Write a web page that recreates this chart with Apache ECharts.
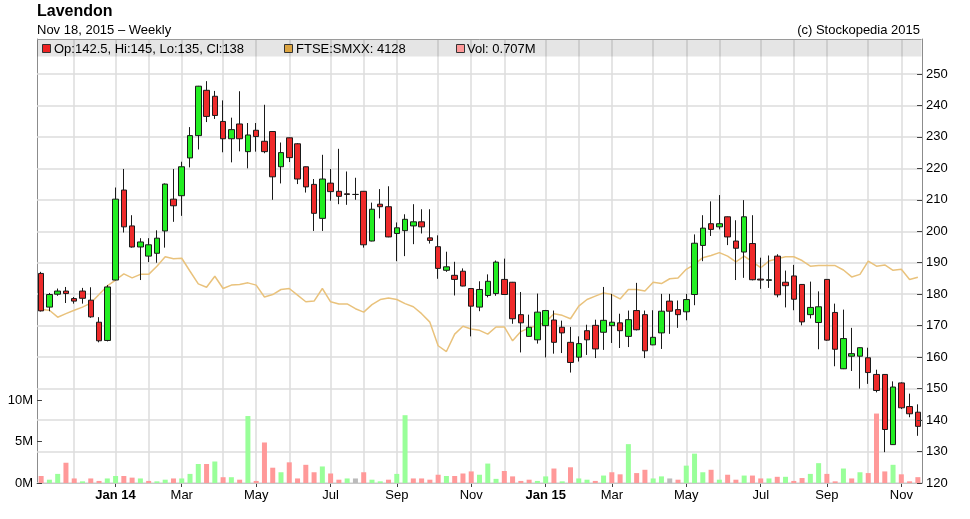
<!DOCTYPE html>
<html><head><meta charset="utf-8">
<script src="https://cdn.jsdelivr.net/npm/echarts@6/dist/echarts.min.js"></script>
<style>html,body{margin:0;padding:0;background:#fff}#c{width:970px;height:519px}</style>
</head><body><div id="c"></div>
<script>
// ---- data (weekly, index 0 = w/c 4 Nov 2013, index 106 = w/c 16 Nov 2015) ----
const openP  = [186.6,175.9,180.0,181.0,178.6,181.0,178.1,171.1,165.3,184.5,213.1,201.7,195.0,192.1,193.0,200.1,210.2,211.3,223.3,230.4,244.8,242.9,234.9,229.4,234.1,225.3,232.1,228.6,231.7,220.5,229.7,227.8,220.5,214.9,204.1,215.3,212.7,211.9,211.7,212.7,196.9,208.6,207.8,199.3,200.2,201.7,203.0,197.9,195.1,187.6,186.0,187.3,181.8,175.9,179.6,180.2,184.7,183.8,173.5,166.6,165.5,170.0,171.8,169.5,164.7,160.0,168.4,170.1,167.9,170.0,170.9,166.6,174.8,173.5,163.9,167.7,177.8,175.1,174.4,179.9,195.5,202.4,201.4,204.6,196.9,193.4,196.1,184.8,184.4,192.1,183.8,185.8,183.1,173.5,171.0,184.7,174.2,156.3,160.3,160.3,159.8,154.5,154.5,132.2,151.8,144.3,142.5];
const closeP = [174.7,179.9,181.0,180.2,177.8,178.7,172.8,165.2,182.3,210.2,201.4,195.0,196.6,195.7,197.8,215.0,208.1,220.5,230.4,246.1,236.5,236.8,229.4,232.3,229.4,230.6,230.1,225.3,217.3,225.0,223.4,216.6,214.1,205.7,216.6,212.6,211.1,211.7,211.7,195.7,207.0,207.8,198.2,201.1,203.8,203.0,201.4,197.1,188.2,188.7,184.7,182.6,176.2,181.5,184.1,190.2,179.9,172.2,170.9,169.5,174.3,174.8,164.7,167.7,158.3,164.3,165.5,162.6,171.7,171.1,168.4,171.9,168.7,162.0,166.3,174.6,174.6,173.5,178.3,196.2,201.0,200.6,202.4,198.2,194.6,204.6,184.6,184.5,184.6,179.8,182.7,178.4,171.2,175.8,176.0,165.4,162.5,165.9,161.1,163.0,155.1,149.4,137.0,150.5,143.9,142.0,138.0];
const lowP   = [174.5,174.6,179.5,177.2,177.0,177.0,172.5,164.7,165.0,184.4,199.6,194.8,184.5,190.2,190.0,194.8,203.0,204.9,220.3,226.0,234.7,235.7,225.1,221.9,225.4,220.0,225.3,224.8,210.0,215.2,222.0,215.0,212.3,200.1,200.1,209.7,208.6,208.4,210.0,194.8,196.8,204.1,198.1,190.5,192.1,195.9,199.3,196.1,184.9,187.1,179.6,182.5,166.6,174.6,179.0,179.5,179.8,170.6,161.5,166.5,164.3,159.9,161.1,161.3,155.1,158.6,160.7,159.7,162.3,164.5,162.9,163.2,168.5,159.7,163.8,162.6,167.4,169.3,171.7,176.5,190.5,198.5,200.6,195.6,184.5,185.2,184.4,181.7,182.0,179.0,175.8,174.9,170.1,172.3,162.5,165.2,157.1,156.2,155.6,150.0,151.5,148.8,129.8,132.1,143.5,140.9,135.0];
const highP  = [187.1,180.4,181.8,182.3,179.1,182.0,182.2,172.7,182.9,213.9,219.8,205.1,197.8,197.8,200.3,215.2,219.8,222.1,233.1,246.2,247.7,244.6,241.6,236.1,244.5,234.4,234.4,240.2,231.8,228.2,229.8,228.0,220.6,216.6,224.3,219.8,226.2,219.0,217.0,212.8,209.1,213.4,214.3,202.8,205.4,208.6,207.0,207.0,198.7,193.5,190.3,188.2,181.9,184.1,186.3,190.7,191.3,183.9,180.7,173.5,180.2,175.0,174.8,171.6,169.6,166.6,170.3,171.9,182.3,180.1,173.8,174.8,183.6,174.8,174.9,180.1,180.1,178.0,180.1,199.0,205.1,209.5,211.5,204.7,203.5,209.9,205.1,191.6,192.3,192.7,187.5,189.3,183.2,184.0,180.9,184.8,177.0,175.1,169.3,163.1,163.0,156.0,154.6,152.3,152.0,148.4,145.0];
const volumeM = [0.85,0.4,1.1,2.45,0.55,0.2,0.55,0.25,0.55,0.85,0.85,0.65,0.55,0.25,0.2,0.4,0.55,0.55,1.1,2.3,2.3,2.6,0.7,0.7,0.4,8.1,0.25,4.9,1.85,1.3,2.5,0.55,2.2,1.3,2.0,1.15,0.4,0.55,0.55,1.3,0.4,0.2,0.4,1.1,8.2,0.55,0.55,0.4,1.0,0.85,0.85,1.15,1.4,1.0,2.35,0.5,1.45,0.8,0.25,0.4,0.25,0.8,1.75,0.2,1.9,0.55,0.4,0.25,0.9,1.3,1.05,4.7,1.2,1.6,0.55,0.8,0.55,0.4,2.1,3.55,1.3,1.6,0.4,1.0,0.4,0.9,0.9,0.55,0.55,0.75,0.75,0.25,0.6,1.1,2.4,1.1,0.2,1.75,0.55,1.3,1.2,8.4,1.4,2.2,1.05,0.2,0.707];
const ftseSMXX = [3899,3894,3845,3870,3894,3916,3945,4005,4066,4108,4152,4123,4148,4148,4206,4273,4259,4262,4170,4081,4057,4135,4048,4072,4077,4088,4072,3988,4005,4041,4048,4001,3954,3959,4048,3954,3939,3939,3905,3881,3934,3970,3981,3970,3941,3919,3870,3810,3643,3602,3725,3781,3761,3752,3725,3776,3776,3678,3743,3769,3787,3810,3870,3858,3834,3923,3970,3994,4017,4005,3974,4041,4041,4030,4092,4083,4117,4123,4184,4219,4266,4282,4302,4277,4237,4277,4237,4195,4242,4259,4273,4273,4246,4206,4210,4210,4210,4179,4130,4148,4242,4206,4215,4177,4184,4112,4128];
// month grid weeks and labelled ticks
const monthGridWeeks = [4,9,13,17,22,26,30,35,39,43,48,52,56,61,65,69,74,78,82,87,91,95,100,104];
const labelWeeks = [9,17,26,35,43,52,61,69,78,87,95,104];
const labelTexts = ['Jan 14','Mar','May','Jul','Sep','Nov','Jan 15','Mar','May','Jul','Sep','Nov'];
const boldLabels = ['Jan 14','Jan 15'];
const priceTicks = [120,130,140,150,160,170,180,190,200,210,220,230,240,250];
const volTicksM = [0,5,10];
const legendTexts = ['Op:142.5, Hi:145, Lo:135, Cl:138','FTSE:SMXX: 4128','Vol: 0.707M'];

// ---- scale settings ----
const PRICE_MIN = 120, PRICE_MAX = 261.1;
const VOL_MAX = 53.7e6;
const FTSE_PER_PRICE = 22.265; // rebasing of the index onto the price scale
const FONT = '"Liberation Sans", Arial, sans-serif';
const TICK_WEEKS = 0.6; // inner tick length, in weeks

const n = openP.length;
const candleData = openP.map((o, i) => [i, o, closeP[i], lowP[i], highP[i]]);
const volData = volumeM.map((v, i) => {
  const prev = i > 0 ? closeP[i - 1] : openP[0];
  const col = closeP[i] > prev ? '#99ff99' : (closeP[i] < prev ? '#ff9999' : '#bbbbbb');
  return { value: [i, v * 1e6], itemStyle: { color: col } };
});
const ftseData = ftseSMXX.map((f, i) => [i, f]);
const labelMap = {};
labelWeeks.forEach((w, k) => labelMap[w] = labelTexts[k]);
const xMin = -0.5, xMax = n - 0.5;

const tickLine = { silent: true, symbol: ['none', 'none'], animation: false, label: { show: false },
  lineStyle: { color: '#404040', width: 1, type: 'solid' }, emphasis: { disabled: true } };

const chart = echarts.init(document.getElementById('c'));
chart.setOption({
  animation: false,
  backgroundColor: '#ffffff',
  grid: { left: 37, right: 48, top: 39, bottom: 36, containLabel: false },
  xAxis: {
    type: 'value', min: xMin, max: xMax,
    axisLine: { show: true, onZero: false, lineStyle: { color: '#8c8c8c', width: 1 } },
    axisTick: { show: true, customValues: labelWeeks, length: 4, lineStyle: { color: '#404040' } },
    axisLabel: {
      customValues: labelWeeks, margin: 6, color: '#000', fontSize: 13, fontFamily: FONT,
      formatter: v => { const t = labelMap[Math.round(v)] || ''; return boldLabels.includes(t) ? '{b|' + t + '}' : t; },
      rich: { b: { fontWeight: 'bold', fontSize: 13, fontFamily: FONT, color: '#000' } }
    },
    splitLine: { show: false }
  },
  yAxis: [
    {
      type: 'value', position: 'right', min: PRICE_MIN, max: PRICE_MAX, interval: 10,
      axisLine: { show: true, onZero: false, lineStyle: { color: '#8c8c8c' } },
      axisTick: { show: false },
      axisLabel: { customValues: priceTicks, margin: 4, color: '#000', fontSize: 13, fontFamily: FONT },
      splitLine: { show: false }
    },
    {
      type: 'value', position: 'left', min: 0, max: VOL_MAX,
      axisLine: { show: true, onZero: false, lineStyle: { color: '#8c8c8c' } },
      axisTick: { show: false },
      axisLabel: { customValues: volTicksM.map(v => v * 1e6), margin: 4, color: '#000', fontSize: 13, fontFamily: FONT,
        formatter: v => Math.round(v / 1e6) + 'M' },
      splitLine: { show: false }
    },
    { type: 'value', show: false, position: 'right', axisLine: { onZero: false },
      min: PRICE_MIN * FTSE_PER_PRICE, max: PRICE_MAX * FTSE_PER_PRICE }
  ],
  graphic: {
    elements: [
      { type: 'rect', z: 1.5, shape: { x: 37, y: 39, width: 884.5, height: 17.5 }, style: { fill: 'rgba(0,0,0,0.1)' } },
      { type: 'line', z: 1.6, shape: { x1: 37, y1: 39.5, x2: 921.5, y2: 39.5 }, style: { stroke: '#9a9a9a', lineWidth: 1 } },
      { type: 'text', z: 10, x: 37, y: 12, style: { text: 'Lavendon', font: 'bold 16px ' + FONT, fill: '#000', textVerticalAlign: 'middle' } },
      { type: 'text', z: 10, x: 37, y: 30, style: { text: 'Nov 18, 2015 \u2013 Weekly', font: '13px ' + FONT, fill: '#000', textVerticalAlign: 'middle' } },
      { type: 'text', z: 10, x: 920, y: 30, style: { text: '(c) Stockopedia 2015', font: '13px ' + FONT, fill: '#000', textAlign: 'right', textVerticalAlign: 'middle' } },
      { type: 'rect', z: 10, shape: { x: 42.5, y: 44.5, width: 8, height: 8 }, style: { fill: '#ee2222', stroke: '#333', lineWidth: 1 } },
      { type: 'text', z: 10, x: 54, y: 49, style: { text: legendTexts[0], font: '13px ' + FONT, fill: '#000', textVerticalAlign: 'middle' } },
      { type: 'rect', z: 10, shape: { x: 284.5, y: 44.5, width: 8, height: 8 }, style: { fill: '#dca542', stroke: '#333', lineWidth: 1 } },
      { type: 'text', z: 10, x: 296, y: 49, style: { text: legendTexts[1], font: '13px ' + FONT, fill: '#000', textVerticalAlign: 'middle' } },
      { type: 'rect', z: 10, shape: { x: 456.5, y: 44.5, width: 8, height: 8 }, style: { fill: '#ff9999', stroke: '#333', lineWidth: 1 } },
      { type: 'text', z: 10, x: 467, y: 49, style: { text: legendTexts[2], font: '13px ' + FONT, fill: '#000', textVerticalAlign: 'middle' } }
    ]
  },
  series: [
    {
      type: 'line', name: 'grid', xAxisIndex: 0, yAxisIndex: 0, data: [], silent: true, z: 1,
      markLine: {
        silent: true, z: 1, symbol: ['none', 'none'], animation: false,
        label: { show: false },
        lineStyle: { color: '#dcdcdc', width: 1.5, type: 'solid' },
        emphasis: { disabled: true },
        data: monthGridWeeks.map(w => ({ xAxis: w })).concat(priceTicks.map(p => ({ yAxis: p })))
      }
    },
    {
      type: 'bar', name: 'Vol', xAxisIndex: 0, yAxisIndex: 1, data: volData, barWidth: 5, z: 2, silent: true,
      markLine: Object.assign({ z: 6 }, tickLine, {
        data: volTicksM.map(v => [{ coord: [xMin, v * 1e6] }, { coord: [xMin + TICK_WEEKS, v * 1e6] }])
      })
    },
    {
      type: 'line', name: 'FTSE:SMXX', xAxisIndex: 0, yAxisIndex: 2, data: ftseData, symbol: 'none', z: 3, silent: true,
      lineStyle: { color: '#e9c27c', width: 1.5 }
    },
    {
      type: 'candlestick', name: 'Lavendon', xAxisIndex: 0, yAxisIndex: 0, data: candleData, barWidth: 6, z: 4, silent: true,
      itemStyle: { color: '#22ee22', color0: '#ee2a2a', borderColor: '#1a1a1a', borderColor0: '#1a1a1a', borderColorDoji: '#1a1a1a', borderWidth: 1 },
      markLine: Object.assign({ z: 6 }, tickLine, {
        data: priceTicks.map(p => [{ coord: [xMax - TICK_WEEKS, p] }, { coord: [xMax, p] }])
      })
    }
  ]
});
</script>
</body></html>
